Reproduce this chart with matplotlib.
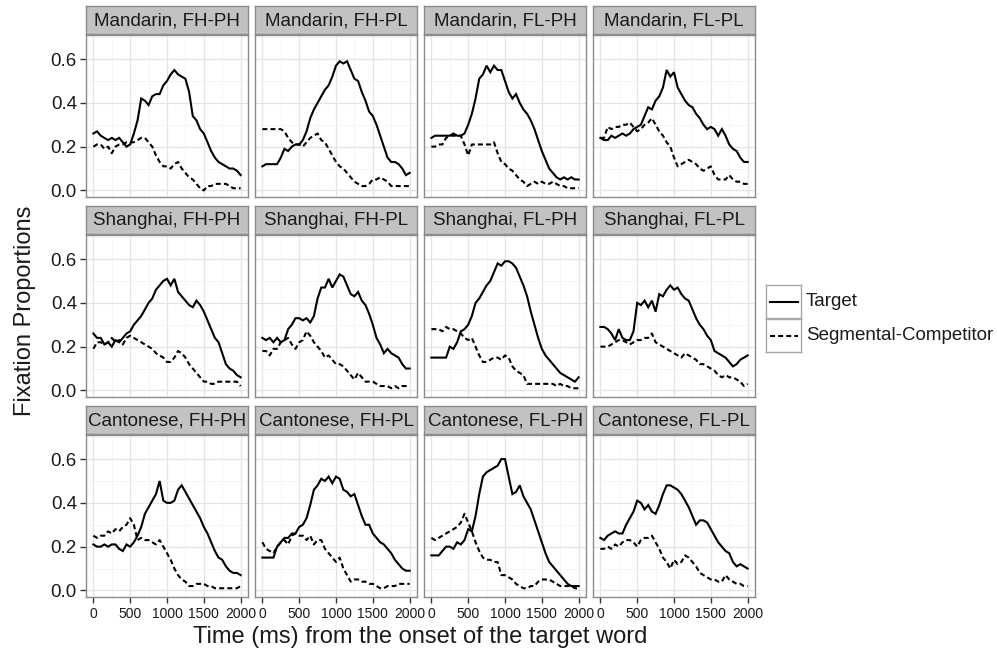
"""
Eye-tracking fixation proportions by dialect group and tone condition
(Target vs. Segmental-Competitor), redrawn as a 3x4 facet grid.
"""

import matplotlib
matplotlib.use("Agg")
import matplotlib.pyplot as plt
import numpy as np

plt.rcParams["font.family"] = ["Liberation Sans", "DejaVu Sans"]

# ---- data (proportions, sampled every 50 ms from 0 to 2000 ms) ----
TIME_MS = np.arange(0, 2001, 50)

LANGUAGES = ["Mandarin", "Shanghai", "Cantonese"]
CONDITIONS = ["FH-PH", "FH-PL", "FL-PH", "FL-PL"]
SERIES = ["Target", "Segmental-Competitor"]

MAN_FHPH_T = [0.26, 0.27, 0.25, 0.24, 0.23, 0.24, 0.23, 0.24, 0.22, 0.20,
              0.21, 0.26, 0.32, 0.42, 0.41, 0.39, 0.43, 0.44, 0.44, 0.48,
              0.50, 0.53, 0.55, 0.53, 0.52, 0.51, 0.45, 0.34, 0.32, 0.28,
              0.26, 0.22, 0.18, 0.15, 0.13, 0.12, 0.11, 0.10, 0.10, 0.09, 0.07]
MAN_FHPH_C = [0.20, 0.21, 0.21, 0.19, 0.20, 0.17, 0.20, 0.21, 0.21, 0.22,
              0.22, 0.22, 0.23, 0.24, 0.24, 0.22, 0.20, 0.16, 0.13, 0.11,
              0.11, 0.10, 0.12, 0.13, 0.10, 0.08, 0.06, 0.05, 0.03, 0.01,
              0.00, 0.02, 0.02, 0.03, 0.03, 0.03, 0.03, 0.02, 0.01, 0.01, 0.01]
MAN_FHPL_T = [0.11, 0.12, 0.12, 0.12, 0.12, 0.15, 0.19, 0.18, 0.20, 0.21,
              0.21, 0.23, 0.27, 0.33, 0.37, 0.40, 0.43, 0.46, 0.48, 0.52,
              0.57, 0.59, 0.58, 0.59, 0.55, 0.51, 0.50, 0.45, 0.41, 0.36,
              0.34, 0.30, 0.25, 0.20, 0.15, 0.13, 0.13, 0.12, 0.10, 0.07, 0.08]
MAN_FHPL_C = [0.28, 0.28, 0.28, 0.28, 0.28, 0.28, 0.27, 0.24, 0.22, 0.21,
              0.21, 0.20, 0.22, 0.24, 0.25, 0.26, 0.23, 0.22, 0.19, 0.16,
              0.13, 0.11, 0.10, 0.08, 0.06, 0.04, 0.03, 0.02, 0.02, 0.03,
              0.05, 0.05, 0.06, 0.05, 0.04, 0.02, 0.02, 0.02, 0.02, 0.02, 0.02]
MAN_FLPH_T = [0.24, 0.25, 0.25, 0.25, 0.25, 0.25, 0.26, 0.25, 0.25, 0.26,
              0.30, 0.35, 0.42, 0.51, 0.53, 0.57, 0.54, 0.57, 0.55, 0.55,
              0.50, 0.45, 0.42, 0.44, 0.40, 0.37, 0.35, 0.32, 0.28, 0.23,
              0.18, 0.14, 0.10, 0.08, 0.06, 0.05, 0.06, 0.05, 0.06, 0.05, 0.05]
MAN_FLPH_C = [0.20, 0.20, 0.21, 0.21, 0.24, 0.25, 0.25, 0.25, 0.25, 0.21,
              0.16, 0.21, 0.21, 0.21, 0.21, 0.21, 0.21, 0.22, 0.17, 0.13,
              0.12, 0.10, 0.09, 0.07, 0.05, 0.04, 0.02, 0.03, 0.04, 0.03,
              0.04, 0.03, 0.03, 0.04, 0.03, 0.02, 0.02, 0.01, 0.01, 0.01, 0.01]
MAN_FLPL_T = [0.24, 0.23, 0.23, 0.25, 0.24, 0.25, 0.26, 0.25, 0.26, 0.28,
              0.29, 0.30, 0.34, 0.38, 0.37, 0.41, 0.43, 0.47, 0.55, 0.52,
              0.54, 0.47, 0.44, 0.41, 0.39, 0.38, 0.35, 0.33, 0.30, 0.28,
              0.29, 0.28, 0.25, 0.28, 0.25, 0.21, 0.19, 0.18, 0.15, 0.13, 0.13]
MAN_FLPL_C = [0.24, 0.24, 0.29, 0.28, 0.29, 0.29, 0.30, 0.30, 0.31, 0.29,
              0.27, 0.28, 0.30, 0.31, 0.33, 0.30, 0.27, 0.25, 0.22, 0.20,
              0.15, 0.11, 0.12, 0.13, 0.14, 0.13, 0.12, 0.10, 0.09, 0.10,
              0.11, 0.07, 0.05, 0.05, 0.05, 0.07, 0.05, 0.04, 0.04, 0.03, 0.03]

SHA_FHPH_T = [0.26, 0.24, 0.24, 0.21, 0.22, 0.20, 0.23, 0.22, 0.24, 0.26,
              0.27, 0.30, 0.32, 0.34, 0.37, 0.40, 0.42, 0.46, 0.48, 0.50,
              0.51, 0.48, 0.51, 0.45, 0.43, 0.41, 0.39, 0.38, 0.41, 0.39,
              0.36, 0.32, 0.28, 0.24, 0.22, 0.17, 0.12, 0.10, 0.09, 0.07, 0.06]
SHA_FHPH_C = [0.19, 0.22, 0.22, 0.21, 0.22, 0.24, 0.22, 0.23, 0.21, 0.24,
              0.25, 0.24, 0.23, 0.22, 0.21, 0.20, 0.19, 0.17, 0.16, 0.15,
              0.13, 0.13, 0.15, 0.18, 0.17, 0.15, 0.12, 0.10, 0.08, 0.06,
              0.04, 0.04, 0.03, 0.03, 0.04, 0.04, 0.04, 0.04, 0.04, 0.04, 0.02]
SHA_FHPL_T = [0.24, 0.23, 0.24, 0.22, 0.24, 0.22, 0.23, 0.28, 0.30, 0.33,
              0.33, 0.32, 0.33, 0.31, 0.34, 0.42, 0.47, 0.47, 0.51, 0.47,
              0.50, 0.53, 0.52, 0.48, 0.44, 0.43, 0.45, 0.41, 0.39, 0.35,
              0.30, 0.24, 0.21, 0.17, 0.19, 0.17, 0.16, 0.15, 0.12, 0.10, 0.10]
SHA_FHPL_C = [0.18, 0.18, 0.16, 0.19, 0.19, 0.22, 0.23, 0.24, 0.21, 0.19,
              0.22, 0.23, 0.27, 0.25, 0.22, 0.20, 0.18, 0.15, 0.16, 0.14,
              0.12, 0.12, 0.11, 0.09, 0.07, 0.05, 0.08, 0.06, 0.04, 0.04,
              0.04, 0.03, 0.02, 0.02, 0.02, 0.01, 0.02, 0.01, 0.02, 0.02, 0.02]
SHA_FLPH_T = [0.15, 0.15, 0.15, 0.15, 0.15, 0.20, 0.19, 0.22, 0.27, 0.28,
              0.30, 0.34, 0.40, 0.42, 0.45, 0.48, 0.50, 0.54, 0.58, 0.57,
              0.59, 0.59, 0.58, 0.56, 0.52, 0.48, 0.43, 0.36, 0.30, 0.24,
              0.19, 0.16, 0.14, 0.12, 0.10, 0.08, 0.07, 0.06, 0.05, 0.04, 0.06]
SHA_FLPH_C = [0.28, 0.28, 0.28, 0.27, 0.29, 0.28, 0.28, 0.27, 0.26, 0.24,
              0.23, 0.24, 0.20, 0.16, 0.13, 0.13, 0.14, 0.15, 0.15, 0.14,
              0.16, 0.15, 0.11, 0.09, 0.08, 0.07, 0.03, 0.03, 0.03, 0.03,
              0.03, 0.03, 0.03, 0.03, 0.02, 0.03, 0.02, 0.02, 0.01, 0.01, 0.01]
SHA_FLPL_T = [0.29, 0.29, 0.28, 0.26, 0.23, 0.28, 0.24, 0.23, 0.23, 0.27,
              0.40, 0.39, 0.41, 0.38, 0.41, 0.36, 0.44, 0.43, 0.46, 0.48,
              0.46, 0.47, 0.44, 0.42, 0.41, 0.37, 0.33, 0.30, 0.28, 0.25,
              0.23, 0.18, 0.17, 0.16, 0.15, 0.13, 0.11, 0.12, 0.14, 0.15, 0.16]
SHA_FLPL_C = [0.20, 0.20, 0.20, 0.21, 0.22, 0.23, 0.23, 0.22, 0.21, 0.22,
              0.23, 0.23, 0.24, 0.24, 0.26, 0.22, 0.21, 0.20, 0.19, 0.18,
              0.17, 0.16, 0.15, 0.17, 0.16, 0.15, 0.14, 0.12, 0.12, 0.11,
              0.10, 0.09, 0.07, 0.06, 0.07, 0.06, 0.06, 0.05, 0.04, 0.02, 0.03]

CAN_FHPH_T = [0.21, 0.20, 0.20, 0.21, 0.20, 0.21, 0.21, 0.19, 0.18, 0.21,
              0.20, 0.22, 0.25, 0.29, 0.35, 0.38, 0.41, 0.44, 0.50, 0.41,
              0.40, 0.40, 0.41, 0.46, 0.48, 0.45, 0.42, 0.39, 0.36, 0.33,
              0.29, 0.26, 0.22, 0.18, 0.15, 0.14, 0.11, 0.09, 0.08, 0.08, 0.07]
CAN_FHPH_C = [0.25, 0.24, 0.25, 0.25, 0.27, 0.26, 0.28, 0.27, 0.29, 0.30,
              0.33, 0.30, 0.23, 0.24, 0.23, 0.23, 0.22, 0.21, 0.23, 0.20,
              0.17, 0.14, 0.10, 0.07, 0.05, 0.04, 0.02, 0.02, 0.03, 0.03,
              0.03, 0.02, 0.02, 0.01, 0.01, 0.01, 0.01, 0.01, 0.01, 0.01, 0.02]
CAN_FHPL_T = [0.15, 0.15, 0.15, 0.15, 0.20, 0.22, 0.24, 0.24, 0.26, 0.26,
              0.29, 0.30, 0.33, 0.39, 0.46, 0.48, 0.51, 0.50, 0.52, 0.49,
              0.52, 0.51, 0.46, 0.45, 0.43, 0.44, 0.39, 0.34, 0.30, 0.30,
              0.26, 0.24, 0.22, 0.21, 0.19, 0.17, 0.14, 0.12, 0.10, 0.09, 0.09]
CAN_FHPL_C = [0.22, 0.19, 0.18, 0.17, 0.20, 0.22, 0.23, 0.21, 0.25, 0.26,
              0.25, 0.25, 0.23, 0.25, 0.21, 0.23, 0.23, 0.19, 0.17, 0.15,
              0.13, 0.15, 0.10, 0.07, 0.04, 0.05, 0.05, 0.04, 0.04, 0.03,
              0.03, 0.02, 0.01, 0.01, 0.02, 0.02, 0.02, 0.03, 0.03, 0.03, 0.03]
CAN_FLPH_T = [0.16, 0.16, 0.16, 0.18, 0.20, 0.20, 0.19, 0.22, 0.21, 0.23,
              0.28, 0.27, 0.34, 0.44, 0.52, 0.54, 0.55, 0.56, 0.57, 0.60,
              0.60, 0.52, 0.44, 0.45, 0.48, 0.43, 0.40, 0.37, 0.32, 0.27,
              0.22, 0.17, 0.13, 0.11, 0.09, 0.07, 0.05, 0.03, 0.02, 0.02, 0.02]
CAN_FLPH_C = [0.24, 0.23, 0.24, 0.25, 0.26, 0.27, 0.28, 0.29, 0.31, 0.35,
              0.31, 0.27, 0.22, 0.18, 0.15, 0.14, 0.14, 0.13, 0.13, 0.07,
              0.07, 0.06, 0.05, 0.03, 0.02, 0.01, 0.01, 0.02, 0.02, 0.04,
              0.05, 0.05, 0.05, 0.04, 0.03, 0.02, 0.02, 0.02, 0.02, 0.01, 0.01]
CAN_FLPL_T = [0.24, 0.23, 0.25, 0.26, 0.27, 0.26, 0.26, 0.30, 0.33, 0.36,
              0.41, 0.40, 0.37, 0.39, 0.36, 0.35, 0.39, 0.44, 0.48, 0.48,
              0.47, 0.46, 0.44, 0.41, 0.38, 0.34, 0.30, 0.32, 0.32, 0.31,
              0.28, 0.25, 0.22, 0.20, 0.18, 0.17, 0.13, 0.11, 0.12, 0.11, 0.10]
CAN_FLPL_C = [0.19, 0.19, 0.20, 0.19, 0.21, 0.20, 0.22, 0.23, 0.23, 0.22,
              0.20, 0.23, 0.24, 0.24, 0.25, 0.22, 0.19, 0.15, 0.13, 0.10,
              0.14, 0.12, 0.13, 0.16, 0.15, 0.13, 0.11, 0.08, 0.07, 0.06,
              0.05, 0.05, 0.04, 0.04, 0.07, 0.05, 0.04, 0.03, 0.03, 0.02, 0.02]

# (language, condition) -> (target, competitor)
PANELS = {
    ("Mandarin", "FH-PH"): (MAN_FHPH_T, MAN_FHPH_C),
    ("Mandarin", "FH-PL"): (MAN_FHPL_T, MAN_FHPL_C),
    ("Mandarin", "FL-PH"): (MAN_FLPH_T, MAN_FLPH_C),
    ("Mandarin", "FL-PL"): (MAN_FLPL_T, MAN_FLPL_C),
    ("Shanghai", "FH-PH"): (SHA_FHPH_T, SHA_FHPH_C),
    ("Shanghai", "FH-PL"): (SHA_FHPL_T, SHA_FHPL_C),
    ("Shanghai", "FL-PH"): (SHA_FLPH_T, SHA_FLPH_C),
    ("Shanghai", "FL-PL"): (SHA_FLPL_T, SHA_FLPL_C),
    ("Cantonese", "FH-PH"): (CAN_FHPH_T, CAN_FHPH_C),
    ("Cantonese", "FH-PL"): (CAN_FHPL_T, CAN_FHPL_C),
    ("Cantonese", "FL-PH"): (CAN_FLPH_T, CAN_FLPH_C),
    ("Cantonese", "FL-PL"): (CAN_FLPL_T, CAN_FLPL_C),
}

X_TICKS = [0, 500, 1000, 1500, 2000]
Y_TICKS = [0.0, 0.2, 0.4, 0.6]

# ---- layout (pixels) ----
W, H = 997, 652
COL_LEFT = [86, 255, 424, 593]
ROW_TOP = [35, 235, 435]
PANEL_W, PANEL_H = 162, 162
STRIP_H = 28

GRID_MAJOR = "#E4E4E4"
GRID_MINOR = "#F4F4F4"
BORDER = "#8C8C8C"
STRIP_FILL = "#C2C2C2"
TEXT = "#1A1A1A"
LINE_W = 1.5
LINE_STYLES = {"Target": "-", "Segmental-Competitor": (0, (2.4, 1.5))}


def px_rect(left, top, width, height):
    return [left / W, 1 - (top + height) / H, width / W, height / H]


fig = plt.figure(figsize=(W / 100, H / 100), dpi=100)

for r, lang in enumerate(LANGUAGES):
    for c, cond in enumerate(CONDITIONS):
        ax = fig.add_axes(px_rect(COL_LEFT[c], ROW_TOP[r], PANEL_W, PANEL_H))
        target, comp = PANELS[(lang, cond)]
        for name, vals in zip(SERIES, (target, comp)):
            ax.plot(TIME_MS, vals, color="black", lw=LINE_W,
                    linestyle=LINE_STYLES[name], solid_joinstyle="miter")

        ax.set_xlim(-100, 2100)
        ax.set_ylim(-0.03, 0.71)
        ax.set_xticks(X_TICKS)
        ax.set_xticks([250, 750, 1250, 1750], minor=True)
        ax.set_yticks(Y_TICKS)
        ax.set_yticks([0.1, 0.3, 0.5, 0.7], minor=True)
        ax.grid(True, which="major", color=GRID_MAJOR, lw=0.9)
        ax.grid(True, which="minor", color=GRID_MINOR, lw=0.6)
        ax.set_axisbelow(True)
        for sp in ax.spines.values():
            sp.set_color(BORDER)
            sp.set_linewidth(1.0)

        ax.tick_params(which="minor", length=0)
        ax.tick_params(axis="y", which="major", length=4.5, width=1.0,
                       color="#333333", labelsize=13.5, labelcolor=TEXT, pad=2)
        ax.tick_params(axis="x", which="major", length=4.5, width=1.0,
                       color="#333333", labelsize=10, labelcolor=TEXT, pad=3)
        ax.set_yticklabels([f"{v:.1f}" for v in Y_TICKS])
        ax.set_xticklabels([str(v) for v in X_TICKS])
        if c != 0:
            ax.tick_params(axis="y", which="major", length=0, labelleft=False)
        if r != len(LANGUAGES) - 1:
            ax.tick_params(axis="x", which="major", length=0, labelbottom=False)

        # facet strip
        sax = fig.add_axes(px_rect(COL_LEFT[c], ROW_TOP[r] - STRIP_H - 1,
                                   PANEL_W, STRIP_H))
        sax.set_facecolor(STRIP_FILL)
        sax.set_xticks([])
        sax.set_yticks([])
        for sp in sax.spines.values():
            sp.set_color(BORDER)
            sp.set_linewidth(1.0)
        sax.text(0.5, 0.47, f"{lang}, {cond}", ha="center", va="center",
                 fontsize=13.5, color=TEXT, transform=sax.transAxes)

# axis titles
fig.text(420 / W, 1 - 637 / H, "Time (ms) from the onset of the target word",
         ha="center", va="center", fontsize=17, color=TEXT)
fig.text(25 / W, 1 - 311 / H, "Fixation Proportions", rotation=90,
         ha="center", va="center", fontsize=17, color=TEXT)

# legend: bordered key boxes as in ggplot
KEY_TOPS = [285, 319]
for top, name in zip(KEY_TOPS, SERIES):
    kax = fig.add_axes(px_rect(766, top, 35, 33))
    kax.set_xlim(0, 1)
    kax.set_ylim(0, 1)
    kax.set_xticks([])
    kax.set_yticks([])
    for sp in kax.spines.values():
        sp.set_color("#A8A8A8")
        sp.set_linewidth(1.0)
    kax.axhline(0.5, xmin=0.1, xmax=0.9, color="black", lw=LINE_W,
                linestyle=LINE_STYLES[name])
    fig.text(806 / W, 1 - (top + 17) / H, name, ha="left", va="center",
             fontsize=13.5, color=TEXT)

fig.savefig("out.png", dpi=100, facecolor="white")
